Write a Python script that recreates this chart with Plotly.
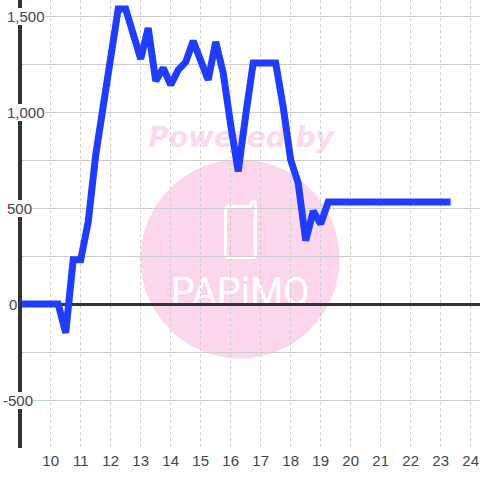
import plotly.graph_objects as go

hours = [8.9, 9, 9.5, 10, 10.25, 10.5, 10.75, 11, 11.25, 11.5, 11.75, 12, 12.25, 12.5, 12.75, 13,
         13.25, 13.5, 13.75, 14, 14.25, 14.5, 14.75, 15, 15.25, 15.5, 15.75, 16, 16.25, 16.5,
         16.75, 17, 17.25, 17.5, 17.75, 18, 18.25, 18.5, 18.75, 19, 19.25, 19.5, 20, 21, 22, 23, 23.33]
power = [0, 0, 0, 0, 0, -150, 230, 230, 427, 776, 1036, 1297, 1536, 1536, 1411, 1276,
         1437, 1161, 1229, 1141, 1219, 1260, 1370, 1260, 1167, 1365, 1203, 932, 690, 984,
         1255, 1255, 1255, 1255, 1026, 750, 630, 330, 484, 417, 531, 531, 531, 531, 531, 531, 531]
y_tick_values = [1500, 1000, 500, 0, -500]
y_tick_labels = ["1,500", "1,000", "500", "0", "-500"]
y_label_left = [7, 7, 7, 9, 3]
x_ticks = list(range(10, 25))

FONT = "Liberation Sans"
INK = "#444444"
GRID = "#cccccc"
DARK = "#333333"
PINK = "#fcd6ed"
PINK_TEXT = "#fcd9ef"
BLUE = "#1f3cff"

L, B = 22, 32
W, H = 480, 480


def hx(px):
    return 10 + (px - 50.7) / 30


def vy(py):
    return (304 - py) * 500 / 96


def pt(px, py):
    return f"{hx(px)} {vy(py)}"


phone = (f"M {pt(229, 206.5)} L {pt(249, 206.5)} Q {pt(251, 206.5)} {pt(251, 204)} "
         f"Q {pt(251, 201)} {pt(253, 201)} Q {pt(255.5, 201)} {pt(255.5, 204)} "
         f"L {pt(255.5, 254)} Q {pt(255.5, 257.5)} {pt(252, 257.5)} L {pt(229, 257.5)} "
         f"Q {pt(225.5, 257.5)} {pt(225.5, 254)} L {pt(225.5, 210)} Q {pt(225.5, 206.5)} {pt(229, 206.5)} Z")

fig = go.Figure()
fig.add_trace(go.Scatter(x=hours, y=power, mode="lines", cliponaxis=False,
                         line=dict(color=BLUE, width=7, shape="linear"),
                         hoverinfo="skip", showlegend=False))

shapes = [
    dict(type="circle", layer="below", xref="x", yref="y", x0=hx(140.5), x1=hx(339.5), y0=vy(358.5),
         y1=vy(159.5), fillcolor=PINK, line=dict(width=0)),
    dict(type="path", layer="below", xref="x", yref="y", path=phone,
         fillcolor="rgba(0,0,0,0)", line=dict(color="#ffffff", width=3)),
    dict(type="rect", layer="below", xref="x", yref="y", x0=hx(141), x1=hx(341), y0=vy(150), y1=vy(120),
         line=dict(width=0), fillcolor="rgba(0,0,0,0)",
         label=dict(text="<b><i>Powered by</i></b>", textposition="middle center",
                    font=dict(family="DejaVu Sans", size=28, color=PINK_TEXT))),
    dict(type="rect", layer="below", xref="x", yref="y", x0=hx(140), x1=hx(340), y0=vy(308), y1=vy(270),
         line=dict(width=0), fillcolor="rgba(0,0,0,0)",
         label=dict(text="PAPiMO", textposition="middle center",
                    font=dict(family="Roboto", weight=400, size=38, color="#ffffff"))),
]

annotations = [
    dict(xref="paper", yref="y", x=(left - L) / (W - L), y=v, text=t, showarrow=False, xanchor="left",
         yanchor="middle", bgcolor="rgba(0,0,0,0)" if v == 0 else "#ffffff", borderpad=0, borderwidth=0,
         font=dict(family=FONT, size=15, color=INK))
    for v, t, left in zip(y_tick_values, y_tick_labels, y_label_left)
]

fig.update_layout(
    width=W, height=H, margin=dict(l=L, r=0, t=0, b=B, pad=0), autosize=False,
    paper_bgcolor="#ffffff", plot_bgcolor="rgba(0,0,0,0)", showlegend=False,
    shapes=shapes, annotations=annotations,
    font=dict(family=FONT, size=15, color=INK),
    xaxis=dict(range=[hx(L), hx(W)], tickmode="array", tickvals=x_ticks, ticktext=[str(t) for t in x_ticks],
               showgrid=True, gridcolor=GRID, gridwidth=1, griddash="3px,3px", zeroline=False,
               showline=False, ticks="", ticklabelstandoff=2, tickfont=dict(family=FONT, size=15, color=INK)),
    yaxis=dict(range=[vy(448), vy(0)], tick0=0, dtick=250, showticklabels=False, showgrid=True,
               gridcolor=GRID, gridwidth=1, zeroline=True, zerolinecolor=DARK, zerolinewidth=3,
               showline=True, linecolor=DARK, linewidth=4, ticks="", layer="below traces"),
)

fig.write_html("out.html", config=dict(displayModeBar=False),
               post_script="document.body.style.margin='0';document.documentElement.style.overflow='hidden';")
